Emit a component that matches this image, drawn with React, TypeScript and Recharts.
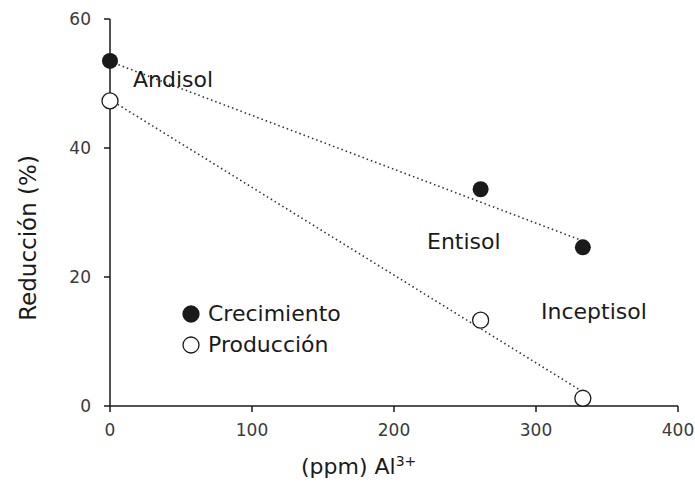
import { ScatterChart, Scatter, XAxis, YAxis } from 'recharts';

// measured points
const crecimiento = [
  { x: 0, y: 53.5 },
  { x: 261, y: 33.6 },
  { x: 333, y: 24.6 },
];
const produccion = [
  { x: 0, y: 47.3 },
  { x: 261, y: 13.3 },
  { x: 333, y: 1.2 },
];

// dotted trend lines (ends)
const fitCrecimiento = [
  { x: 0, y: 53.4 },
  { x: 333, y: 25.6 },
];
const fitProduccion = [
  { x: 0, y: 47.5 },
  { x: 333, y: 2.2 },
];

const xTicks = [0, 100, 200, 300, 400];
const yTicks = [0, 20, 40, 60];

const INK = '#1a1a1a';
const FONT = '"DejaVu Sans", Verdana, sans-serif';

const filledDot = (p: any) => <circle cx={p.cx} cy={p.cy} r={8} fill={INK} />;
const openDot = (p: any) => (
  <circle cx={p.cx} cy={p.cy} r={8} fill="#fff" stroke={INK} strokeWidth={1.3} />
);
const noDot = () => <g />;

const legendItems = [
  { name: 'Crecimiento', filled: true },
  { name: 'Producción', filled: false },
];

function LegendBox() {
  return (
    <div style={{ fontFamily: FONT, fontSize: 22, color: INK, lineHeight: '31px' }}>
      {legendItems.map((it) => (
        <div key={it.name} style={{ display: 'flex', alignItems: 'center' }}>
          <svg width={22} height={22} style={{ marginRight: 6 }}>
            <circle
              cx={11}
              cy={11}
              r={8}
              fill={it.filled ? INK : '#fff'}
              stroke={INK}
              strokeWidth={1.3}
            />
          </svg>
          <span>{it.name}</span>
        </div>
      ))}
    </div>
  );
}

export default function App() {
  const tickStyle = { fontFamily: FONT, fontSize: 17, fill: '#3a3a3a' };
  const labelStyle: any = {
    position: 'absolute',
    fontFamily: FONT,
    fontSize: 22,
    color: INK,
    whiteSpace: 'nowrap',
  };
  return (
    <div style={{ position: 'absolute', left: 0, top: 0, width: 695, height: 485, background: '#fff' }}>
      <ScatterChart width={695} height={485} margin={{ top: 19, right: 17, bottom: 39, left: 50 }}>
        <XAxis
          type="number"
          dataKey="x"
          domain={[0, 400]}
          ticks={xTicks}
          tick={tickStyle}
          tickSize={6}
          tickMargin={12}
          axisLine={{ stroke: INK, strokeWidth: 1.5 }}
          tickLine={{ stroke: INK, strokeWidth: 1.5 }}
          height={40}
        />
        <YAxis
          type="number"
          dataKey="y"
          domain={[0, 60]}
          ticks={yTicks}
          tick={tickStyle}
          tickSize={6}
          tickMargin={13}
          axisLine={{ stroke: INK, strokeWidth: 1.5 }}
          tickLine={{ stroke: INK, strokeWidth: 1.5 }}
          width={60}
        />
        <Scatter
          data={fitCrecimiento}
          line={{ stroke: '#333', strokeWidth: 1.6, strokeDasharray: '1.5 3' }}
          shape={noDot}
          legendType="none"
          isAnimationActive={false}
        />
        <Scatter
          data={fitProduccion}
          line={{ stroke: '#333', strokeWidth: 1.6, strokeDasharray: '1.5 3' }}
          shape={noDot}
          legendType="none"
          isAnimationActive={false}
        />
        <Scatter name="Crecimiento" data={crecimiento} shape={filledDot} isAnimationActive={false} />
        <Scatter name="Producción" data={produccion} shape={openDot} isAnimationActive={false} />
      </ScatterChart>
      <div style={{ position: 'absolute', left: 180, top: 298 }}>
        <LegendBox />
      </div>
      <div style={{ ...labelStyle, left: 133, top: 67 }}>Andisol</div>
      <div style={{ ...labelStyle, left: 427, top: 229 }}>Entisol</div>
      <div style={{ ...labelStyle, left: 541, top: 299 }}>Inceptisol</div>
      <div style={{ ...labelStyle, left: 301, top: 453 }}>
        (ppm) Al<sup style={{ fontSize: 14 }}>3+</sup>
      </div>
      <div
        style={{
          ...labelStyle,
          fontSize: 23,
          left: 28,
          top: 238,
          transform: 'translate(-50%, -50%) rotate(-90deg)',
        }}
      >
        Reducción (%)
      </div>
    </div>
  );
}
